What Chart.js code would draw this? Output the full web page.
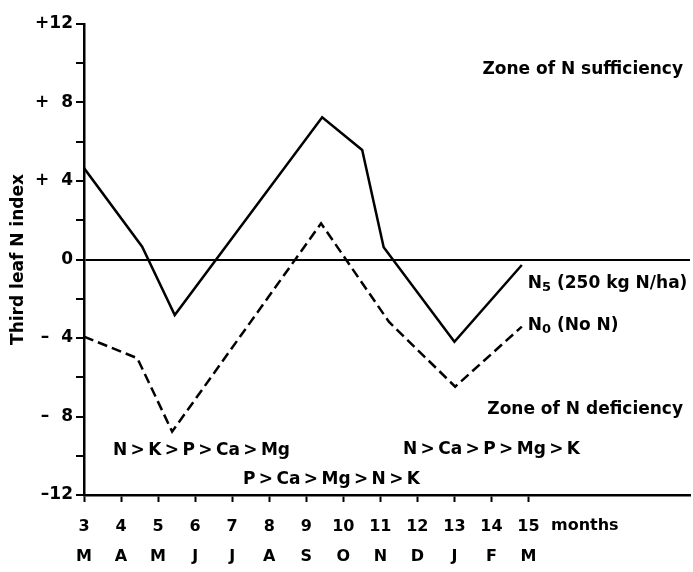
<!DOCTYPE html>
<html>
<head>
<meta charset="utf-8">
<script src="https://cdn.jsdelivr.net/npm/chart.js@4"></script>
<style>
  body { margin: 0; background: #fff; }
  #wrap { width: 693px; height: 572px; }
</style>
</head>
<body>
<div id="wrap"><canvas id="myChart" width="693" height="572"></canvas></div>
<script>
// months after planting, with calendar month letters under them
const monthTicks = [3, 4, 5, 6, 7, 8, 9, 10, 11, 12, 13, 14, 15];
const monthLetters = ['M', 'A', 'M', 'J', 'J', 'A', 'S', 'O', 'N', 'D', 'J', 'F', 'M'];

// y tick labels (every 4 units, minor ticks every 2)
const yTickValues = [12, 8, 4, 0, -4, -8, -12];
const yTickLabels = ['+12', '+\u20078', '+\u20074', '0', '\u2013\u20074', '\u2013\u20078', '\u201312'];

// N5 (250 kg N/ha)
const n5Months = [3, 4.57, 5.45, 9.43, 10.51, 11.09, 13.0, 14.82];
const n5Index = [4.66, 0.65, -2.83, 7.25, 5.58, 0.62, -4.19, -0.28];

// N0 (no N)
const n0Months = [3, 4.44, 5.38, 9.40, 11.23, 13.02, 14.82];
const n0Index = [-3.93, -5.03, -8.77, 1.84, -3.17, -6.48, -3.42];

// nutrient orders written under the curves
const orderEarly = ['N', 'K', 'P', 'Ca', 'Mg'];
const orderMid = ['P', 'Ca', 'Mg', 'N', 'K'];
const orderLate = ['N', 'Ca', 'P', 'Mg', 'K'];

const FONT = 'DejaVu Sans';
const GT = '\u2009>\u2009';

function toPoints(xs, ys) {
  return xs.map((x, i) => ({ x: x, y: ys[i] }));
}

// free text drawn on the chart (zone names, series names, nutrient orders)
const textPlugin = {
  id: 'notes',
  afterDraw(chart) {
    const c = chart.ctx;
    const xs = chart.scales.x;
    const ys = chart.scales.y;
    c.save();
    c.fillStyle = '#000';
    c.textBaseline = 'middle';
    c.font = 'bold 17px "' + FONT + '"';

    c.textAlign = 'right';
    c.fillText('Zone of N sufficiency', 683, 70);
    c.fillText('Zone of N deficiency', 683, 410);

    c.textAlign = 'left';
    c.fillText(orderEarly.join(GT), 113, 451);
    c.fillText(orderMid.join(GT), 243, 480);
    c.fillText(orderLate.join(GT), 403, 450);

    // series labels next to the line ends
    function seriesLabel(sub, rest, x, y) {
      c.font = 'bold 17px "' + FONT + '"';
      c.fillText('N', x, y);
      let w = c.measureText('N').width;
      c.font = 'bold 13px "' + FONT + '"';
      c.fillText(sub, x + w, y + 4);
      w += c.measureText(sub).width;
      c.font = 'bold 17px "' + FONT + '"';
      c.fillText(rest, x + w, y);
    }
    const endX = xs.getPixelForValue(n5Months[n5Months.length - 1]) + 6;
    seriesLabel('5', ' (250 kg N/ha)', endX, ys.getPixelForValue(n5Index[n5Index.length - 1]) + 19);
    seriesLabel('0', ' (No N)', endX, ys.getPixelForValue(n0Index[n0Index.length - 1]) - 1);

    c.font = 'bold 16px "' + FONT + '"';
    c.fillText('months', 551, 526);
    c.restore();
  }
};

const ctx = document.getElementById('myChart');

new Chart(ctx, {
  type: 'line',
  data: {
    datasets: [
      {
        label: 'N5 (250 kg N/ha)',
        data: toPoints(n5Months, n5Index),
        borderColor: '#000',
        borderWidth: 2.5,
        pointRadius: 0,
        tension: 0,
        fill: false
      },
      {
        label: 'N0 (No N)',
        data: toPoints(n0Months, n0Index),
        borderColor: '#000',
        borderWidth: 2.5,
        borderDash: [10, 5],
        pointRadius: 0,
        tension: 0,
        fill: false
      }
    ]
  },
  options: {
    responsive: false,
    animation: false,
    events: [],
    layout: { padding: { top: 24, right: 3, bottom: 0, left: 0 } },
    plugins: {
      legend: { display: false },
      tooltip: { enabled: false }
    },
    scales: {
      x: {
        type: 'linear',
        min: 3,
        max: 19.36,
        afterBuildTicks: s => { s.ticks = monthTicks.map(v => ({ value: v })); },
        afterFit: s => { s.height = 77; },
        ticks: {
          autoSkip: false,
          maxRotation: 0,
          padding: 10,
          color: '#000',
          font: { family: FONT, size: 16, weight: 'bold', lineHeight: 1.875 },
          callback: v => [String(v), monthLetters[monthTicks.indexOf(v)]]
        },
        grid: {
          drawOnChartArea: false,
          tickLength: 7,
          tickWidth: 2,
          tickColor: '#000'
        },
        border: { color: '#000', width: 2.5 }
      },
      y: {
        min: -12,
        max: 12,
        afterFit: s => { s.width = 84; },
        ticks: {
          stepSize: 2,
          padding: 3,
          color: '#000',
          font: { family: FONT, size: 17, weight: 'bold' },
          callback: v => {
            const i = yTickValues.indexOf(v);
            return i >= 0 ? yTickLabels[i] : '';
          }
        },
        grid: {
          color: c => (c.tick && c.tick.value === 0 ? '#000' : 'rgba(0,0,0,0)'),
          lineWidth: 2,
          tickLength: 8,
          tickWidth: 2,
          tickColor: '#000'
        },
        border: { color: '#000', width: 2.5 },
        title: {
          display: true,
          text: 'Third leaf N index',
          color: '#000',
          font: { family: FONT, size: 17, weight: 'bold' },
          padding: { top: 8, bottom: 0 }
        }
      }
    }
  },
  plugins: [textPlugin]
});
</script>
</body>
</html>
